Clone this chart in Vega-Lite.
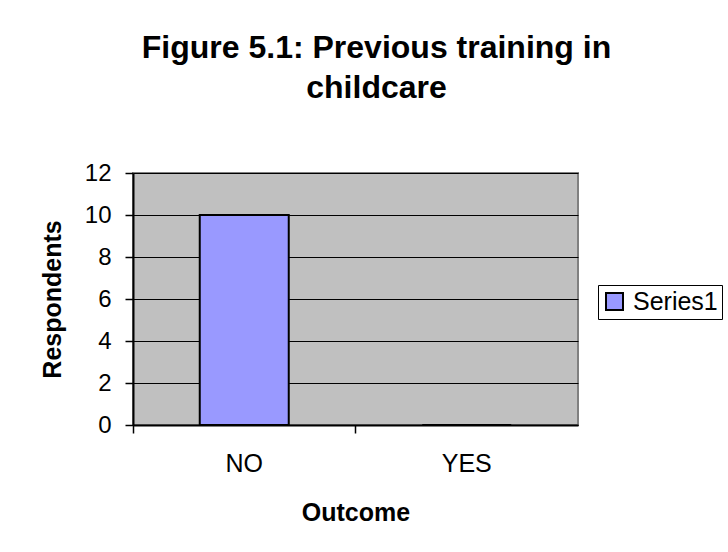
{
  "$schema": "https://vega.github.io/schema/vega-lite/v6.json",
  "width": 445,
  "height": 252,
  "autosize": {"type": "none"},
  "padding": {"left": 133, "top": 173, "right": 150, "bottom": 127},
  "background": "white",
  "title": {
    "text": ["Figure 5.1: Previous training in", "childcare"],
    "fontSize": 32,
    "font": "Liberation Sans",
    "fontWeight": "bold",
    "color": "black",
    "anchor": "middle",
    "frame": "group",
    "dx": 21,
    "offset": 56,
    "lineHeight": 40
  },
  "data": {
    "values": [
      {"outcome": "NO", "respondents": 10, "series": "Series1"},
      {"outcome": "YES", "respondents": 0, "series": "Series1"}
    ]
  },
  "mark": {"type": "bar", "stroke": "black", "strokeWidth": 2, "width": {"band": 0.4}},
  "encoding": {
    "x": {
      "field": "outcome",
      "type": "nominal",
      "title": "Outcome",
      "scale": {"domain": ["NO", "YES"], "paddingInner": 0, "paddingOuter": 0},
      "axis": {
        "labelAngle": 0,
        "bandPosition": 0,
        "labelPadding": 18,
        "labelFontSize": 25,
        "titlePadding": 24,
        "grid": false
      }
    },
    "y": {
      "field": "respondents",
      "type": "quantitative",
      "title": "Respondents",
      "scale": {"domain": [0, 12], "nice": false},
      "axis": {"values": [0, 2, 4, 6, 8, 10, 12], "labelPadding": 14, "titlePadding": 19, "grid": true}
    },
    "color": {
      "field": "series",
      "type": "nominal",
      "scale": {"range": ["#9999FF"]},
      "legend": {
        "title": null,
        "orient": "none",
        "legendX": 465,
        "legendY": 112,
        "symbolType": "square",
        "symbolSize": 289,
        "symbolStrokeColor": "black",
        "symbolStrokeWidth": 2,
        "symbolOpacity": 1,
        "labelFontSize": 25,
        "labelFont": "Liberation Sans",
        "labelColor": "black",
        "labelOffset": 6,
        "strokeColor": "black",
        "fillColor": "white",
        "padding": 4
      }
    }
  },
  "config": {
    "view": {"fill": "#C0C0C0", "stroke": "#808080", "strokeWidth": 2},
    "axis": {
      "labelFont": "Liberation Sans",
      "titleFont": "Liberation Sans",
      "labelFontSize": 24,
      "titleFontSize": 25,
      "titleFontWeight": "bold",
      "labelColor": "black",
      "titleColor": "black",
      "domainColor": "black",
      "domainWidth": 2,
      "tickColor": "black",
      "tickWidth": 1.5,
      "tickSize": 8,
      "gridColor": "black",
      "gridWidth": 1,
      "gridOpacity": 1
    }
  }
}
